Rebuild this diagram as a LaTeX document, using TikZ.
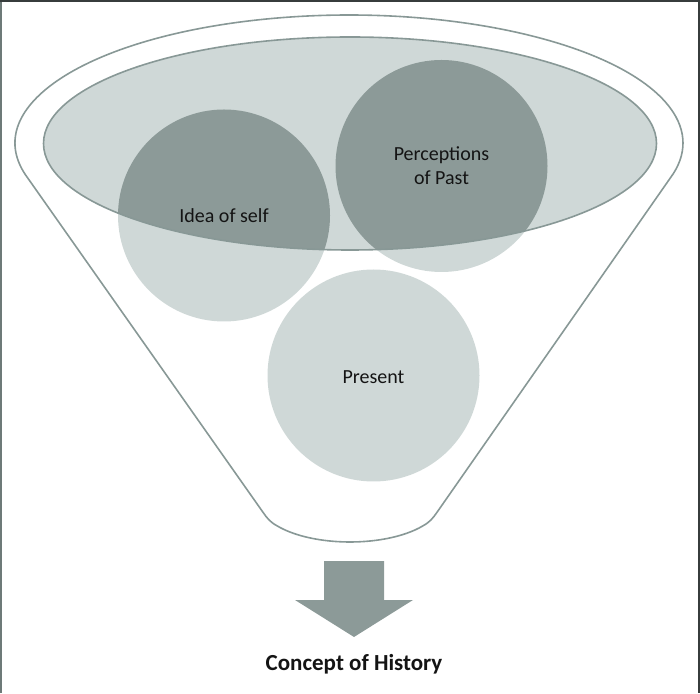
\documentclass[tikz,border=0pt]{standalone}
\usepackage{fontspec}
\setmainfont{Carlito}
\definecolor{edgec}{RGB}{136,152,150}
\definecolor{lightc}{RGB}{207,216,215}
\definecolor{darkc}{RGB}{140,154,152}
\definecolor{framec}{RGB}{55,60,60}
\definecolor{txtc}{RGB}{20,20,20}
\begin{document}
\begin{tikzpicture}[x=1pt,y=1pt,
  ball/.style={circle, fill=lightc, draw=none, minimum size=212pt, inner sep=0pt},
  lbl/.style={text=txtc, font=\fontsize{20}{24}\selectfont, align=center, inner sep=0pt},
  outline/.style={draw=edgec, line width=1.6pt}]
\useasboundingbox (0,0) rectangle (700,693);
% frame
\draw[edgec!80!black, line width=1.5pt] (0.75,0) -- (0.75,693);
\draw[framec, line width=2pt] (0,692) -- (699,692) -- (699,0);
% funnel outline
\draw[outline, line join=round] (263,180.7) -- (27.8,514.9)
  arc[start angle=195.9, end angle=-15.9, x radius=334, y radius=128]
  -- (437,180.7) .. controls (433,175) and (430,171) .. (423,167.2)
  arc[start angle=-35.8, end angle=-144.2, x radius=90, y radius=39]
  .. controls (270,171) and (267,175) .. cycle;
% inner ellipse
\fill[lightc] (350,549.5) ellipse[x radius=306.5, y radius=106.5];
% circles
\node[ball] (idea) at (224,477.5) {};
\node[ball] (past) at (441.5,527) {};
\node[ball] (pres) at (373.5,317.5) {};
\begin{scope}
  \clip (350,549.5) ellipse[x radius=306.5, y radius=106.5];
  \fill[darkc] (idea.center) circle[radius=106];
  \fill[darkc] (past.center) circle[radius=106];
\end{scope}
\draw[edgec, line width=1.6pt] (350,549.5) ellipse[x radius=306.5, y radius=106.5];
% labels
\node[lbl] (ideat) at (idea.center) {Idea of self};
\node[lbl] (pastt) at (past.center) {Perceptions\\of Past};
\node[lbl] (prest) at ([yshift=-2pt]pres.center) {Present};
% arrow
\fill[darkc] (324,132) -- (384,132) -- (384,93) -- (413,93) -- (354,56)
  -- (295,93) -- (324,93) -- cycle;
\node[text=txtc, font=\bfseries\fontsize{23}{27}\selectfont, inner sep=0pt] (concept) at (354,29) {Concept of History};
\end{tikzpicture}
\end{document}
